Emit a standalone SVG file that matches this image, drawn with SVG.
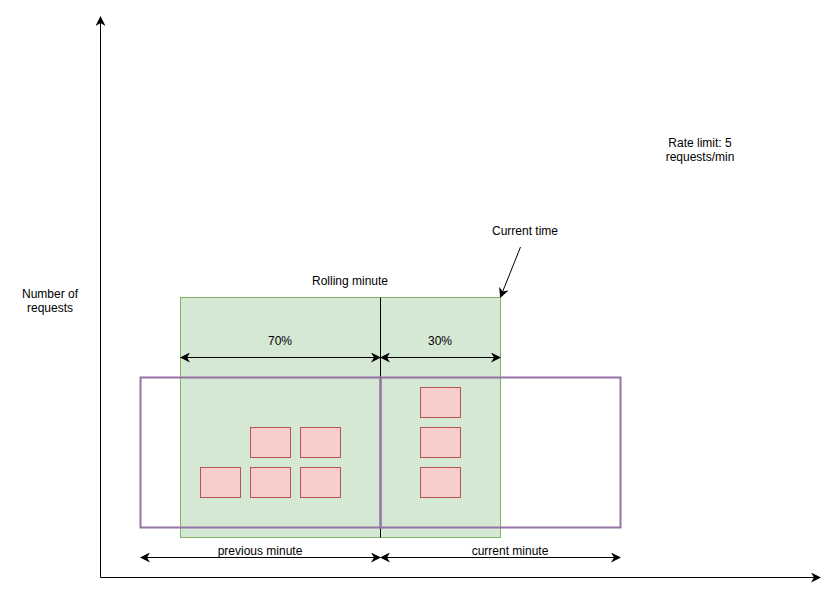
<svg xmlns="http://www.w3.org/2000/svg" width="839" height="596" viewBox="0 0 839 596">
<style>
text{font-family:"Liberation Sans",Arial,sans-serif;font-size:12px;fill:#000;text-anchor:middle}
.ln{stroke:#000;stroke-width:1;fill:none}
.req{fill:#f8cecc;stroke:#b85450;stroke-width:1}
.win{fill:none;stroke:#9673a6;stroke-width:2}
</style>
<defs>
<marker id="ah" viewBox="0 0 10 10" refX="9" refY="5" markerWidth="10" markerHeight="10" markerUnits="userSpaceOnUse" orient="auto-start-reverse">
<path d="M0,0 L10,5 L0,10 L3,5 Z" fill="#000"/>
</marker>
</defs>
<rect width="839" height="596" fill="#fff"/>
<g id="rolling">
<rect x="180.5" y="297.5" width="320" height="240" fill="#d5e8d4" stroke="#82b366"/>
<line class="ln" x1="380.5" y1="297.5" x2="380.5" y2="537.5"/>
</g>
<g id="prev-window"><rect class="win" x="140.5" y="377.5" width="240" height="150"/></g>
<g id="cur-window"><rect class="win" x="380.5" y="377.5" width="240" height="150"/></g>
<g id="requests">
<rect class="req" x="200.5" y="467.5" width="40" height="30"/>
<rect class="req" x="250.5" y="467.5" width="40" height="30"/>
<rect class="req" x="300.5" y="467.5" width="40" height="30"/>
<rect class="req" x="250.5" y="427.5" width="40" height="30"/>
<rect class="req" x="300.5" y="427.5" width="40" height="30"/>
<rect class="req" x="420.5" y="387.5" width="40" height="30"/>
<rect class="req" x="420.5" y="427.5" width="40" height="30"/>
<rect class="req" x="420.5" y="467.5" width="40" height="30"/>
</g>
<g id="connectors">
<line class="ln" x1="100.5" y1="577.5" x2="100.5" y2="17" marker-end="url(#ah)"/>
<line class="ln" x1="100.5" y1="577.5" x2="820" y2="577.5" marker-end="url(#ah)"/>
<line class="ln" x1="181" y1="357.5" x2="380" y2="357.5" marker-start="url(#ah)" marker-end="url(#ah)"/>
<line class="ln" x1="381" y1="357.5" x2="500" y2="357.5" marker-start="url(#ah)" marker-end="url(#ah)"/>
<line class="ln" x1="141" y1="557.5" x2="380" y2="557.5" marker-start="url(#ah)" marker-end="url(#ah)"/>
<line class="ln" x1="381" y1="557.5" x2="620" y2="557.5" marker-start="url(#ah)" marker-end="url(#ah)"/>
<line class="ln" x1="520.5" y1="247" x2="500.5" y2="297" marker-end="url(#ah)"/>
</g>
<g id="labels">
<text x="280" y="345">70%</text>
<text x="440" y="345">30%</text>
<text x="350" y="285">Rolling minute</text>
<text x="525" y="235">Current time</text>
<text x="260" y="555">previous minute</text>
<text x="510" y="555">current minute</text>
<text x="50" y="298">Number of</text>
<text x="50" y="312">requests</text>
<text x="700" y="147">Rate limit: 5</text>
<text x="700" y="161">requests/min</text>
</g>
</svg>
